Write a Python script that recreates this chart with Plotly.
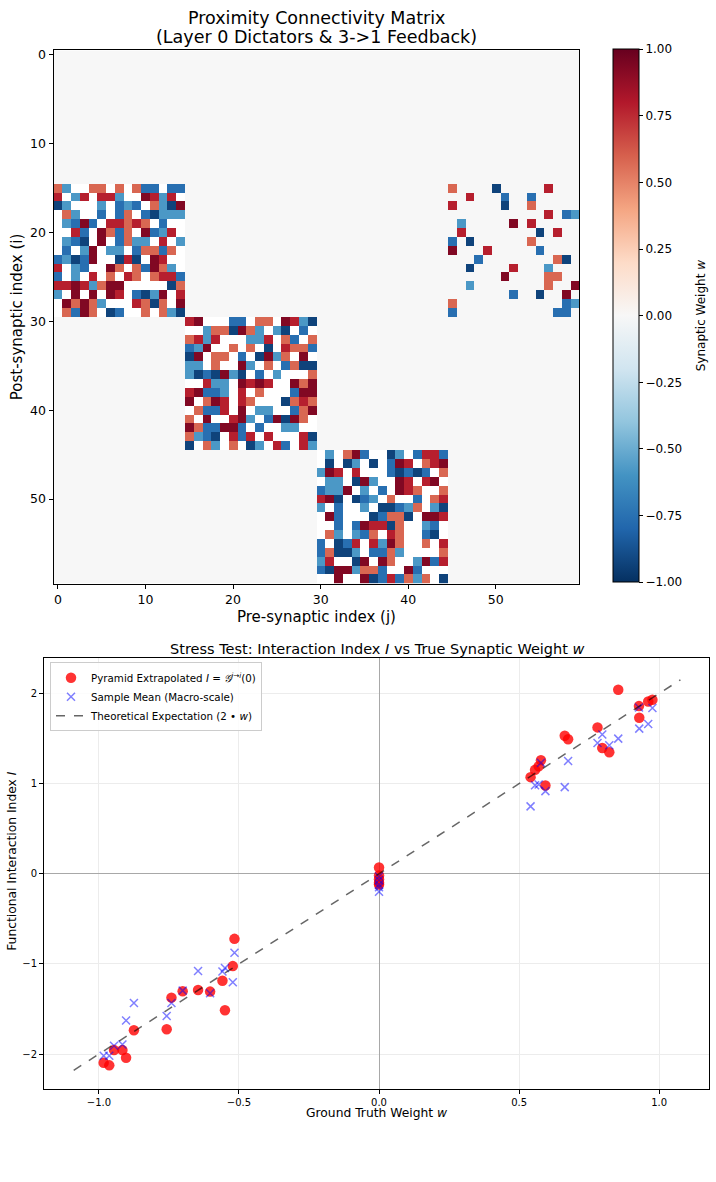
import numpy as np
import plotly.graph_objects as go

W, H = 716, 1182

# ---------------- Heatmap data ----------------
# colour-level codes -> synaptic weight ; "." = empty (masked) cell, "0" = zero weight
LEVELS = {"R": 0.93, "r": 0.78, "o": 0.58, "B": -0.93, "b": -0.76, "l": -0.58,
          "0": 0.0, ".": np.nan}
N_NEURONS = 60
TICKS_HEAT = [0, 10, 20, 30, 40, 50]

# Layer block 1: rows 15-29, cols 0-14
BLOCK_L1 = [
    "o l . . o o . o . o b b . b b",
    "r . l r . r r l . . R r l r .",
    "B l . . . l . b l b . o l B R",
    ". o l . . b . b o . b B l l l",
    ". l b R b . r r o r o . b . .",
    ". . r b . R o b o . R b l r .",
    ". l b B . R . b o l l . r . l",
    ". b . l R . l l . b o o b o .",
    "b l B b R . . B r B . R r . .",
    "r . l b . . R o . o b R o l .",
    "b . l . r . o . r o . o r r b",
    "r r R r l o R R . . . . . B o",
    "l . R . R . R r . b B l R . r",
    ". R o R o l . . . r o B o . R",
    ". o b R o . B b . . o . o l B",
]
# Layer block 2: rows 30-44, cols 15-29
BLOCK_L2 = [
    "r R . . . b b . o o . R r l B",
    ". . l o o B R o l . l B . b .",
    "o r l r . . . l l r . o b . o",
    "b l R . . o . o . B . r o o b",
    "B R . o o . b . B R l o . R .",
    "l l . o . . R l . o . b o B B",
    "l B b B R l B . b . l . . . o",
    ". . r l l . R r R r . . R o R",
    "r R b b l . r . o . . . b R R",
    "R . o R r . r o . . . B o r o",
    ". o b b r . R . l l . . b o R",
    "o . R . . r R l . b R B R o .",
    "R o b b R R b . b . . l l . .",
    "o l b B . r b r . r . . . r B",
    "B . o l . o . B l . r b . r l",
]
# Layer block 3: rows 45-59, cols 30-44
BLOCK_L3 = [
    ". l . o R b . . B l . b r r b",
    ". B . B l . B . b R r . o r R",
    "l R r . r . . . b B b B b . o",
    ". l l . B R l . . R r . r R .",
    "b l l R . l . b . R r o . . o",
    "r R B . B b l . o . . b . o r",
    "l . b . . l . B B b l o . l B",
    ". R b . . . B b o o B . R R r",
    ". . b . b R r r B o . . l b .",
    ". o l . l b o . r o . . b B .",
    "b . B b r . r l R o . . o . r",
    "b o B B l . b b o l . . . . o",
    "l r . . B R . R o . . l R b r",
    "b B R R l o o b . . R b . . .",
    ". . R . . R B b r b o l o . B",
]
# Feedback 3->1: rows 15-29, cols 45-59
BLOCK_FB = [
    "o0000B00000r000",
    "00r000b00b00000",
    "r00000B00o00000",
    "00000000000r0bl",
    "0l00000R0r00000",
    "0r00000000B0r00",
    "b0B000000o00000",
    "R000r00000b0000",
    "000b00000000oB0",
    "00B0000r000l000",
    "000000R0000oo00",
    "00l00000000o00R",
    "0000000b00B00R0",
    "o000000000000bl",
    "b00000000000bb0",
]
# (row offset, col offset, block)
BLOCKS = [(15, 0, BLOCK_L1), (30, 15, BLOCK_L2), (45, 30, BLOCK_L3), (15, 45, BLOCK_FB)]

M = np.zeros((N_NEURONS, N_NEURONS))
for r0, c0, blk in BLOCKS:
    for i, row in enumerate(blk):
        codes = row.split() if " " in row else list(row)
        for j, c in enumerate(codes):
            M[r0 + i, c0 + j] = LEVELS[c]

# ---------------- Scatter data ----------------
WEIGHTS = [-0.516, -0.522, -0.559, -0.550, -0.603, -0.646, -0.701, -0.741, -0.758,
           -0.875, -0.946, -0.916, -0.903, -0.983, -0.963,
           0.0, 0.0, 0.0, 0.0, 0.0,
           0.854, 0.976, 0.961, 0.928, 0.929, 0.780, 0.663, 0.675, 0.797, 0.822,
           0.578, 0.570, 0.557, 0.541, 0.594]
I_PYRAMID = [-0.722, -1.024, -1.186, -1.514, -1.307, -1.289, -1.304, -1.374, -1.724,
             -1.735, -1.956, -1.956, -2.040, -2.096, -2.125,
             0.07, -0.02, -0.06, -0.10, -0.12,
             2.041, 1.930, 1.912, 1.860, 1.731, 1.624, 1.532, 1.492, 1.396, 1.348,
             1.260, 1.193, 1.153, 1.072, 0.980]
I_SAMPLE_MEAN = [-0.876, -1.204, -1.083, -1.046, -1.326, -1.079, -1.296, -1.433, -1.577,
                 -1.433, -1.908, -1.893, -1.628, -2.018, -2.018,
                 -0.03, -0.07, -0.12, -0.15, -0.20,
                 1.499, 1.838, 1.661, 1.845, 1.610, 1.451, 0.961, 1.252, 1.544, 1.425,
                 1.230, 0.991, 0.983, 0.748, 0.917]
THEORY_W = [-1.09, 1.076]
THEORY_I = [2 * w for w in THEORY_W]

# ---------------- Figure ----------------
RDBU_R = [[0.0, "#053061"], [0.1, "#2166ac"], [0.2, "#4393c3"], [0.3, "#92c5de"],
          [0.4, "#d1e5f0"], [0.5, "#f7f7f7"], [0.6, "#fddbc7"], [0.7, "#f4a582"],
          [0.8, "#d6604d"], [0.9, "#b2182b"], [1.0, "#67001f"]]
FONT = "DejaVu Sans"

def px_x(p):
    return p / W

def px_y(p):
    return 1 - p / H

fig = go.Figure()

fig.add_trace(go.Heatmap(
    z=M, x=list(range(N_NEURONS)), y=list(range(N_NEURONS)),
    colorscale=RDBU_R, zmin=-1, zmax=1, hoverinfo="skip",
    xaxis="x", yaxis="y",
    colorbar=dict(
        x=px_x(612.5), xanchor="left", xpad=0,
        y=px_y(313.5), yanchor="middle", ypad=0,
        len=533, lenmode="pixels", thickness=26, thicknessmode="pixels",
        outlinewidth=1, outlinecolor="black",
        ticks="outside", ticklen=4, tickcolor="black",
        tickvals=[-1, -0.75, -0.5, -0.25, 0, 0.25, 0.5, 0.75, 1],
        ticktext=["\u22121.00", "\u22120.75", "\u22120.50", "\u22120.25", "0.00",
                  "0.25", "0.50", "0.75", "1.00"],
        tickfont=dict(family=FONT, size=12, color="black"),
    ),
))

fig.add_trace(go.Scatter(
    x=WEIGHTS, y=I_PYRAMID, mode="markers", xaxis="x2", yaxis="y2",
    name="Pyramid Extrapolated <i>I</i> = <i>\U0001D4A2</i><sup><i>j</i>\u2192<i>i</i></sup>(0)",
    marker=dict(size=10.5, color="rgba(255,0,0,0.8)", line=dict(width=0)),
))
fig.add_trace(go.Scatter(
    x=WEIGHTS, y=I_SAMPLE_MEAN, mode="markers", xaxis="x2", yaxis="y2",
    name="Sample Mean (Macro-scale)",
    marker=dict(symbol="x-thin", size=8, color="rgba(0,0,255,0.5)",
                line=dict(width=1.5, color="rgba(0,0,255,0.5)")),
))
fig.add_trace(go.Scatter(
    x=THEORY_W, y=THEORY_I, mode="lines", xaxis="x2", yaxis="y2",
    name="Theoretical Expectation (2 \u2022 <i>w</i>)",
    line=dict(color="rgba(0,0,0,0.6)", dash="dash", width=1.5),
))

axis_common = dict(showline=True, linecolor="black", linewidth=1, mirror=True,
                   ticks="outside", ticklen=4, tickcolor="black")

fig.update_layout(
    width=W, height=H, margin=dict(l=0, r=0, t=0, b=0),
    paper_bgcolor="white", plot_bgcolor="white",
    font=dict(family=FONT, color="black"),
    showlegend=True,
    xaxis=dict(domain=[px_x(53.5), px_x(579)], range=[-0.5, 59.5], anchor="y",
               tickvals=TICKS_HEAT, showgrid=False, zeroline=False,
               tickfont=dict(size=12.5), **axis_common),
    yaxis=dict(domain=[px_y(582), px_y(47.5)], range=[59.5, -0.5], anchor="x",
               tickvals=TICKS_HEAT, showgrid=False, zeroline=False,
               tickfont=dict(size=12.5), **axis_common),
    xaxis2=dict(domain=[px_x(44), px_x(709)], range=[-1.196, 1.178], anchor="y2",
                tickvals=[-1, -0.5, 0, 0.5, 1],
                ticktext=["\u22121.0", "\u22120.5", "0.0", "0.5", "1.0"],
                showgrid=True, gridcolor="#ececec", gridwidth=1,
                zeroline=True, zerolinecolor="#a8a8a8", zerolinewidth=1,
                tickfont=dict(size=10), **axis_common),
    yaxis2=dict(domain=[px_y(1089), px_y(657)], range=[-2.39, 2.39], anchor="x2",
                tickvals=[-2, -1, 0, 1, 2],
                ticktext=["\u22122", "\u22121", "0", "1", "2"],
                showgrid=True, gridcolor="#ececec", gridwidth=1,
                zeroline=True, zerolinecolor="#a8a8a8", zerolinewidth=1,
                tickfont=dict(size=10), **axis_common),
    legend=dict(x=px_x(50), y=px_y(661), xanchor="left", yanchor="top",
                bgcolor="rgba(255,255,255,0.85)", bordercolor="#cccccc", borderwidth=1,
                font=dict(family=FONT, size=10.3), tracegroupgap=0, itemwidth=30),
)

ann = [
    dict(text="Proximity Connectivity Matrix",
         x=px_x(316), y=px_y(15), xanchor="center", yanchor="middle",
         font=dict(size=17.5)),
    dict(text="(Layer 0 Dictators & 3->1 Feedback)",
         x=px_x(316), y=px_y(34), xanchor="center", yanchor="middle",
         font=dict(size=17.5)),
    dict(text="Pre-synaptic index (j)", x=px_x(316), y=px_y(605),
         xanchor="center", yanchor="top", font=dict(size=15)),
    dict(text="Post-synaptic index (i)", x=px_x(6), y=px_y(315), textangle=-90,
         xanchor="left", yanchor="middle", font=dict(size=15)),
    dict(text="Synaptic Weight <i>w</i>", x=px_x(692), y=px_y(314), textangle=-90,
         xanchor="left", yanchor="middle", font=dict(size=12)),
    dict(text="Stress Test: Interaction Index <i>I</i> vs True Synaptic Weight <i>w</i>",
         x=px_x(377), y=px_y(648), xanchor="center", yanchor="middle",
         font=dict(size=14.5)),
    dict(text="Ground Truth Weight <i>w</i>", x=px_x(377), y=px_y(1113),
         xanchor="center", yanchor="middle", font=dict(size=12.3)),
    dict(text="Functional Interaction Index <i>I</i>", x=px_x(3), y=px_y(860),
         textangle=-90, xanchor="left", yanchor="middle", font=dict(size=12.3)),
]
for a in ann:
    a.update(xref="paper", yref="paper", showarrow=False)
fig.update_layout(annotations=ann)

fig.write_html("out.html")
